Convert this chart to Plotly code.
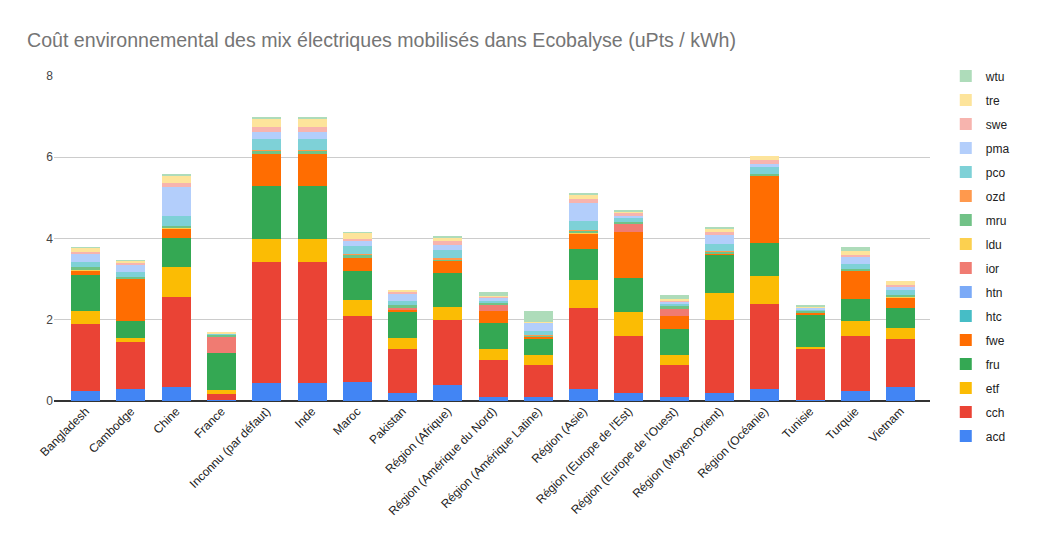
import plotly.graph_objects as go

# Categories (electricity mixes)
pays = [
    "Bangladesh", "Cambodge", "Chine", "France", "Inconnu (par défaut)", "Inde",
    "Maroc", "Pakistan", "Région (Afrique)", "Région (Amérique du Nord)",
    "Région (Amérique Latine)", "Région (Asie)", "Région (Europe de l'Est)",
    "Région (Europe de l'Ouest)", "Région (Moyen-Orient)", "Région (Océanie)",
    "Tunisie", "Turquie", "Vietnam",
]

# Impact values per indicator (uPts / kWh)
acd = [0.24, 0.29, 0.35, 0.02, 0.45, 0.45, 0.48, 0.20, 0.40, 0.09, 0.11, 0.30, 0.19, 0.11, 0.20, 0.30, 0.02, 0.25, 0.34]
cch = [1.66, 1.17, 2.22, 0.16, 2.98, 2.98, 1.62, 1.09, 1.60, 0.93, 0.77, 2.00, 1.42, 0.77, 1.80, 2.09, 1.27, 1.36, 1.19]
etf = [0.32, 0.10, 0.73, 0.10, 0.56, 0.56, 0.39, 0.27, 0.32, 0.25, 0.26, 0.68, 0.59, 0.26, 0.66, 0.69, 0.05, 0.37, 0.27]
fru = [0.89, 0.42, 0.72, 0.91, 1.31, 1.31, 0.70, 0.64, 0.82, 0.65, 0.38, 0.77, 0.84, 0.64, 0.94, 0.80, 0.78, 0.52, 0.50]
fwe = [0.10, 1.03, 0.22, 0.00, 0.79, 0.79, 0.34, 0.05, 0.30, 0.29, 0.06, 0.38, 1.13, 0.32, 0.04, 1.66, 0.04, 0.69, 0.24]
htc = [0.00] * 19
htn = [0.00] * 19
ior = [0.00, 0.00, 0.00, 0.39, 0.00, 0.00, 0.00, 0.05, 0.00, 0.16, 0.00, 0.00, 0.20, 0.17, 0.00, 0.00, 0.00, 0.00, 0.00]
ldu = [0.02, 0.00, 0.02, 0.00, 0.00, 0.00, 0.00, 0.00, 0.00, 0.00, 0.00, 0.01, 0.00, 0.00, 0.00, 0.00, 0.00, 0.00, 0.03]
mru = [0.07, 0.05, 0.05, 0.05, 0.08, 0.08, 0.07, 0.07, 0.05, 0.05, 0.02, 0.06, 0.04, 0.07, 0.03, 0.05, 0.06, 0.06, 0.04]
ozd = [0.00, 0.00, 0.00, 0.00, 0.02, 0.02, 0.02, 0.00, 0.02, 0.00, 0.03, 0.02, 0.00, 0.00, 0.03, 0.00, 0.00, 0.00, 0.00]
pco = [0.12, 0.12, 0.25, 0.02, 0.26, 0.26, 0.20, 0.10, 0.20, 0.05, 0.10, 0.20, 0.10, 0.05, 0.17, 0.17, 0.04, 0.13, 0.13]
pma = [0.20, 0.16, 0.70, 0.02, 0.18, 0.18, 0.11, 0.18, 0.12, 0.07, 0.19, 0.45, 0.05, 0.05, 0.22, 0.08, 0.03, 0.17, 0.06]
swe = [0.05, 0.05, 0.11, 0.00, 0.12, 0.12, 0.06, 0.04, 0.10, 0.02, 0.00, 0.10, 0.06, 0.04, 0.07, 0.09, 0.02, 0.05, 0.05]
tre = [0.10, 0.07, 0.17, 0.03, 0.18, 0.18, 0.15, 0.05, 0.10, 0.03, 0.03, 0.11, 0.05, 0.04, 0.08, 0.10, 0.02, 0.10, 0.11]
wtu = [0.01, 0.01, 0.05, 0.00, 0.06, 0.06, 0.02, 0.00, 0.02, 0.09, 0.27, 0.05, 0.03, 0.09, 0.02, 0.00, 0.02, 0.10, 0.00]

series = [
    ("acd", acd, "#4285F4"),
    ("cch", cch, "#EA4335"),
    ("etf", etf, "#FBBC04"),
    ("fru", fru, "#34A853"),
    ("fwe", fwe, "#FF6D01"),
    ("htc", htc, "#46BDC6"),
    ("htn", htn, "#7BAAF7"),
    ("ior", ior, "#F07B72"),
    ("ldu", ldu, "#FCD04F"),
    ("mru", mru, "#71C287"),
    ("ozd", ozd, "#FF994D"),
    ("pco", pco, "#7ED1D7"),
    ("pma", pma, "#B3CEFB"),
    ("swe", swe, "#F7B4AE"),
    ("tre", tre, "#FDE49B"),
    ("wtu", wtu, "#AEDCBA"),
]

fig = go.Figure()
for i, (name, vals, color) in enumerate(series):
    fig.add_trace(go.Bar(
        x=pays, y=vals, name=name, legendgroup=name,
        legendrank=1000 - i,  # last series on top, like the stack
        marker=dict(color=color, line=dict(width=0)),
    ))

fig.update_layout(
    barmode="stack",
    bargap=0.36,
    width=1050, height=539,
    margin=dict(l=46, r=128, t=68, b=146),
    paper_bgcolor="white",
    plot_bgcolor="white",
    font=dict(family="Liberation Sans, Arial, sans-serif", size=12, color="#222222"),
    title=dict(
        text="Coût environnemental des mix électriques mobilisés dans Ecobalyse (uPts / kWh)",
        x=19 / 1050, xref="container", xanchor="left",
        y=1 - 32 / 539, yref="container", yanchor="middle",
        font=dict(size=19.6, color="#757575"),
    ),
    legend=dict(
        x=1.018, y=1.045, xanchor="left", yanchor="top",
        traceorder="grouped", tracegroupgap=5, maxheight=520,
        font=dict(size=12, color="#222222"),
    ),
    xaxis=dict(
        tickangle=-45, range=[-0.7, 18.65], showgrid=False,
        tickfont=dict(size=12, color="#222222"), ticks="",
    ),
    yaxis=dict(
        range=[0, 8], dtick=2, gridcolor="#cccccc", zeroline=True,
        zerolinecolor="#333333", zerolinewidth=1.5,
        tickfont=dict(size=12, color="#444444"), ticks="",
    ),
)

fig.write_html("out.html")
